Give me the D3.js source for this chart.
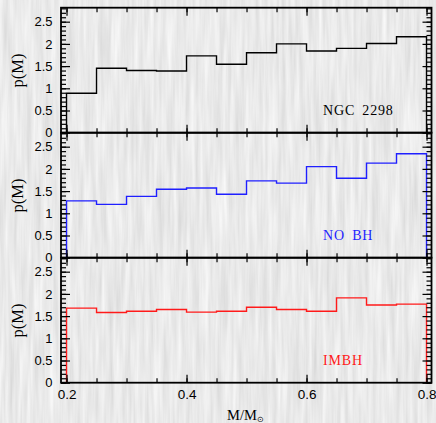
<!DOCTYPE html>
<html><head><meta charset="utf-8">
<script src="https://cdn.jsdelivr.net/npm/d3@7/dist/d3.min.js"></script>
<style>body{margin:0;background:#d3d3d3;overflow:hidden}svg{display:block}</style>
</head><body>
<svg id="c" width="436" height="423"></svg>
<script>
// ---- data ----
const binEdges = [0.2,0.25,0.3,0.35,0.4,0.45,0.5,0.55,0.6,0.65,0.7,0.75,0.8];
const ngc2298 = [0.89,1.45,1.40,1.39,1.73,1.54,1.80,2.00,1.84,1.90,2.01,2.16];
const noBH    = [1.28,1.20,1.38,1.54,1.57,1.43,1.73,1.68,2.05,1.79,2.13,2.34];
const imbh    = [1.68,1.58,1.61,1.65,1.59,1.61,1.70,1.65,1.61,1.91,1.75,1.77];
const panelNames = ["NGC 2298","NO BH","IMBH"];
const yTickLabels = [0,0.5,1,1.5,2,2.5];
const xTickLabels = [0.2,0.4,0.6,0.8];

// ---- layout / style ----
const series = [ngc2298, noBH, imbh];
const colors = ["#000000","#1f1fff","#ff1a1a"];
const left = 61, right = 431.5, top0 = 7.7, ph = 125;
const xDom = [0.1908, 0.8083];
const yMax = 2.815;

const svg = d3.select("#c");
const defs = svg.append("defs");
const f = defs.append("filter").attr("id","wood").attr("x",0).attr("y",0).attr("width","100%").attr("height","100%");
f.append("feTurbulence").attr("type","fractalNoise").attr("baseFrequency","0.22 0.012").attr("numOctaves",3).attr("seed",11);
f.append("feColorMatrix").attr("type","matrix")
 .attr("values","0.30 0 0 0 0.67  0.30 0 0 0 0.67  0.30 0 0 0 0.67  0 0 0 0 1");
svg.append("rect").attr("width",436).attr("height",423).attr("filter","url(#wood)");

const x = d3.scaleLinear().domain(xDom).range([left, right]);
const xMinor = d3.range(0.2, 0.8001, 0.05);
const yMinor = d3.range(0, 2.81, 0.1);
const sans = "Liberation Sans, Arial, sans-serif";
const serif = "Liberation Serif, Times New Roman, serif";

series.forEach((vals, i) => {
  const pTop = top0 + i*ph, pBot = pTop + ph;
  const y = d3.scaleLinear().domain([0, yMax]).range([pBot, pTop]);
  const g = svg.append("g");

  // histogram
  const pts = [[xDom[0],0],[binEdges[0],0]];
  vals.forEach((v,k) => { pts.push([binEdges[k], v]); pts.push([binEdges[k+1], v]); });
  pts.push([binEdges[binEdges.length-1], 0]); pts.push([xDom[1], 0]);
  g.append("path").attr("d", d3.line().x(d=>x(d[0])).y(d=>y(d[1]))(pts))
   .attr("fill","none").attr("stroke",colors[i]).attr("stroke-width",1.4);

  // axes ticks (inward)
  const mk = (axis, tr) => {
    const a = g.append("g").attr("transform", tr).call(axis);
    a.select(".domain").remove();
    a.selectAll("line").attr("stroke","#000").attr("stroke-width",1.2);
    return a;
  };
  mk(d3.axisLeft(y).tickValues(yMinor).tickSize(-5).tickFormat(""), `translate(${left},0)`);
  mk(d3.axisRight(y).tickValues(yMinor).tickSize(-5).tickFormat(""), `translate(${right},0)`);
  mk(d3.axisRight(y).tickValues(yTickLabels).tickSize(-9).tickFormat(""), `translate(${right},0)`);
  const yl = mk(d3.axisLeft(y).tickValues(yTickLabels).tickSize(-9).tickPadding(8.5).tickFormat(d3.format("")), `translate(${left},0)`);
  yl.selectAll("text").attr("font-family",sans).attr("font-size",13).attr("fill","#000");

  mk(d3.axisBottom(x).tickValues(xMinor).tickSize(-4.5).tickFormat(""), `translate(0,${pBot})`);
  mk(d3.axisTop(x).tickValues(xMinor).tickSize(-4.5).tickFormat(""), `translate(0,${pTop})`);
  mk(d3.axisTop(x).tickValues(xTickLabels).tickSize(-8).tickFormat(""), `translate(0,${pTop})`);
  const xl = mk(d3.axisBottom(x).tickValues(xTickLabels).tickSize(-8).tickPadding(7).tickFormat(i===2 ? d3.format(".1f") : ""), `translate(0,${pBot})`);
  xl.selectAll("text").attr("font-family",sans).attr("font-size",13.5).attr("fill","#000");

  // frame
  g.append("rect").attr("x",left).attr("y",pTop).attr("width",right-left).attr("height",ph)
   .attr("fill","none").attr("stroke","#000").attr("stroke-width",1.8);

  // labels
  g.append("text").attr("transform",`translate(22.5,${y(1.4)}) rotate(-90)`).attr("text-anchor","middle")
   .attr("font-family",serif).attr("font-size",16.5).text("p(M)");
  g.append("text").attr("x", x(0.6276)).attr("y", y(0.4))
   .attr("font-family",serif).attr("font-size",14)
   .attr("letter-spacing",0.8).attr("word-spacing",3).attr("fill",colors[i]).text(panelNames[i]);
});

const xt = svg.append("text").attr("x",227).attr("y",420)
 .attr("font-family",serif).attr("font-size",14.5);
xt.append("tspan").text("M/M");
xt.append("tspan").attr("font-size",8).attr("dy",1.5).text("\u2299");
</script>
</body></html>
